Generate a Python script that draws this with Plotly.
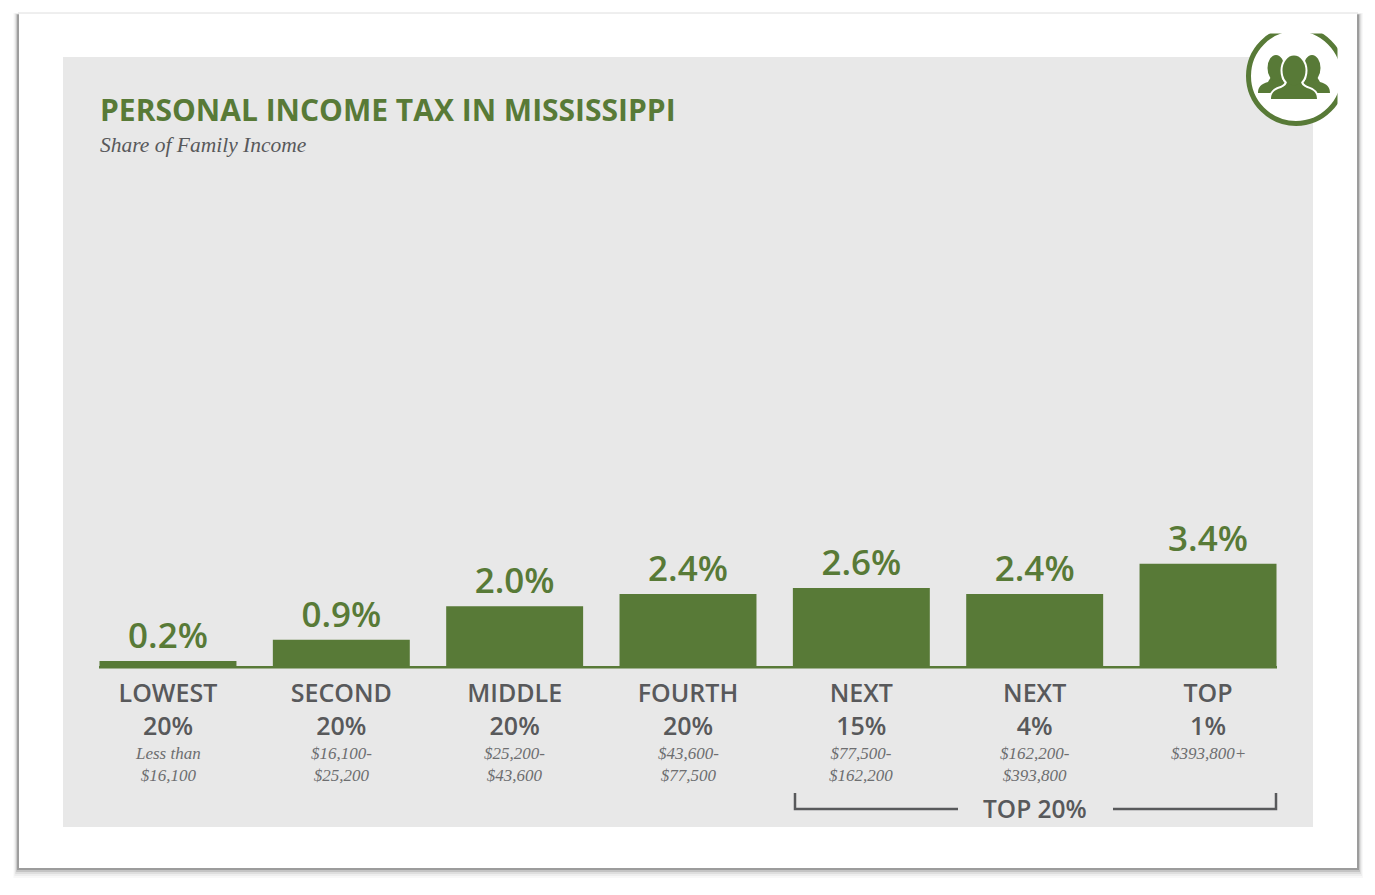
import plotly.graph_objects as go

# ---- data ----
categories = ["LOWEST<br>20%", "SECOND<br>20%", "MIDDLE<br>20%", "FOURTH<br>20%",
              "NEXT<br>15%", "NEXT<br>4%", "TOP<br>1%"]
shares = [0.2, 0.9, 2.0, 2.4, 2.6, 2.4, 3.4]
share_labels = ["0.2%", "0.9%", "2.0%", "2.4%", "2.6%", "2.4%", "3.4%"]
income_ranges = ["Less than<br>$16,100", "$16,100-<br>$25,200", "$25,200-<br>$43,600",
                 "$43,600-<br>$77,500", "$77,500-<br>$162,200", "$162,200-<br>$393,800",
                 "$393,800+"]
title_text = "PERSONAL INCOME TAX IN MISSISSIPPI"
subtitle_text = "Share of Family Income"
bracket_text = "TOP 20%"

# ---- style ----
W, H = 1375, 895
GREEN = "#587a37"
GREY = "#58595b"
LIGHTGREY = "#6d6e70"
PANEL = "#e8e8e8"
SANS = "Open Sans"
SERIF = "Liberation Serif"
PX_PER_UNIT = 30.4
ZERO_Y = 667
TOP_Y = 57
LEFT_X, RIGHT_X = 81.3, 1294.7


def px(x):
    return x / W


def py(y):
    return 1 - y / H


def rect(x0, y0, x1, y1, fill, layer="below"):
    return dict(type="rect", xref="paper", yref="paper", x0=px(x0), x1=px(x1),
                y0=py(y1), y1=py(y0), fillcolor=fill, line_width=0, layer=layer)


def pix_path(segments, fill=None, line=None, width=0, layer="above"):
    parts = []
    for cmd, *pts in segments:
        coords = " ".join(f"{px(pts[i]):.5f},{py(pts[i + 1]):.5f}" for i in range(0, len(pts), 2))
        parts.append(f"{cmd}{coords}")
    d = dict(type="path", xref="paper", yref="paper", path=" ".join(parts), layer=layer)
    d["fillcolor"] = fill if fill else "rgba(0,0,0,0)"
    d["line"] = dict(color=line if line else "rgba(0,0,0,0)", width=width)
    return d


def ellipse(cx, cy, rx, ry, fill, line=None, width=0, layer="above"):
    return dict(type="circle", xref="paper", yref="paper", x0=px(cx - rx), x1=px(cx + rx),
                y0=py(cy + ry), y1=py(cy - ry), fillcolor=fill,
                line=dict(color=line if line else "rgba(0,0,0,0)", width=width), layer=layer)


def person(cx, head_y, head_rx, head_ry, half_w, base_y, fill, outline=None, owidth=0):
    nw = head_rx * 0.6
    neck_y = head_y + head_ry * 0.7
    sh = base_y - 11
    body = [("M", cx - half_w, base_y),
            ("C", cx - half_w, base_y - 6, cx - half_w + 3, sh + 2, cx - half_w + 10, sh),
            ("C", cx - nw - 2, sh - 2, cx - nw, sh - 4, cx - nw, neck_y),
            ("L", cx + nw, neck_y),
            ("C", cx + nw, sh - 4, cx + nw + 2, sh - 2, cx + half_w - 10, sh),
            ("C", cx + half_w - 3, sh + 2, cx + half_w, base_y - 6, cx + half_w, base_y),
            ("Z",)]
    return [pix_path(body, fill=fill, line=outline, width=owidth),
            ellipse(cx, head_y, head_rx, head_ry, fill, line=outline, width=owidth)]


shapes = []
# card drop shadow
for inset, col in [(10, "#f8f8f8"), (8, "#eeeeee"), (6, "#dedede"), (4, "#c4c4c4"), (2, "#9c9c9c")]:
    shapes.append(rect(18 - inset * 0.45, 13 + (10 - inset) * 0.2, 1358 + inset * 0.5, 868 + inset, col))
shapes.append(rect(19, 13, 1357, 868, "#ffffff"))
shapes.append(dict(type="line", xref="paper", yref="paper", x0=px(18), x1=px(1358), y0=py(13), y1=py(13),
                   line=dict(color="#dedede", width=1), layer="below"))
# panel
shapes.append(rect(63, 57, 1313, 827, PANEL))
# baseline
shapes.append(rect(99, 666, 1277, 668.5, GREEN, layer="below"))
# top-20% bracket
shapes.append(pix_path([("M", 795, 793), ("L", 795, 809), ("L", 958, 809)], line=GREY, width=2.5))
shapes.append(pix_path([("M", 1113, 809), ("L", 1276, 809), ("L", 1276, 793)], line=GREY, width=2.5))
# round icon, clipped by white bands at its top and right
shapes.append(ellipse(1296, 76, 47.5, 47.5, "#ffffff", line=GREEN, width=5))
shapes.append(rect(1337.5, 20, 1356, 130, "#ffffff", layer="above"))
shapes.append(rect(1240, 15, 1350, 33.5, "#ffffff", layer="above"))
shapes += person(1276, 68, 8.5, 13, 18, 93, GREEN)
shapes += person(1312, 68, 8.5, 13, 18, 93, GREEN)
shapes += person(1294, 70.5, 11.5, 15, 23, 99, "#ffffff", outline="#ffffff", owidth=4)
shapes += person(1294, 70.5, 11.5, 15, 23, 99, GREEN)

annotations = [
    dict(text=f"<b>{title_text}</b>", x=px(98), y=py(109), xref="paper", yref="paper", xanchor="left",
         yanchor="middle", showarrow=False, font=dict(family=SANS, size=30, color=GREEN)),
    dict(text=f"<i>{subtitle_text}</i>", x=px(98), y=py(145), xref="paper", yref="paper", xanchor="left",
         yanchor="middle", showarrow=False, font=dict(family=SERIF, size=21.5, color=GREY)),
    dict(text=bracket_text, x=categories[5], y=py(808.5), xref="x", yref="paper", xanchor="center",
         yanchor="middle", showarrow=False, font=dict(family=SANS, size=24.5, color=GREY, weight=600)),
]
for cat, rng in zip(categories, income_ranges):
    annotations.append(dict(text=f"<i>{rng}</i>", x=cat, y=py(741.5), xref="x", yref="paper",
                            xanchor="center", yanchor="top", align="center", showarrow=False,
                            font=dict(family=SERIF, size=17, color=LIGHTGREY)))

fig = go.Figure(go.Bar(
    x=categories, y=shares, text=share_labels, textposition="outside", cliponaxis=False,
    textfont=dict(family=SANS, size=35, color=GREEN, weight=600),
    marker=dict(color=GREEN, line_width=0), hoverinfo="skip",
))
fig.update_layout(
    width=W, height=H, margin=dict(l=0, r=0, t=0, b=0), autosize=False,
    paper_bgcolor="#ffffff", plot_bgcolor="rgba(0,0,0,0)", showlegend=False,
    bargap=1 - 137 / 173.4, shapes=shapes, annotations=annotations,
)
fig.update_xaxes(domain=[px(LEFT_X), px(RIGHT_X)], showgrid=False, zeroline=False, showline=False,
                 ticks="outside", ticklen=4, tickcolor="rgba(0,0,0,0)",
                 tickfont=dict(family=SANS, size=25, color=GREY, weight=600), tickangle=0)
fig.update_yaxes(domain=[py(ZERO_Y), py(TOP_Y)], range=[0, (ZERO_Y - TOP_Y) / PX_PER_UNIT],
                 visible=False, showgrid=False, zeroline=False)

fig.write_html("out.html", config={"displayModeBar": False},
               post_script="document.body.style.margin='0';document.body.style.overflow='hidden';")
